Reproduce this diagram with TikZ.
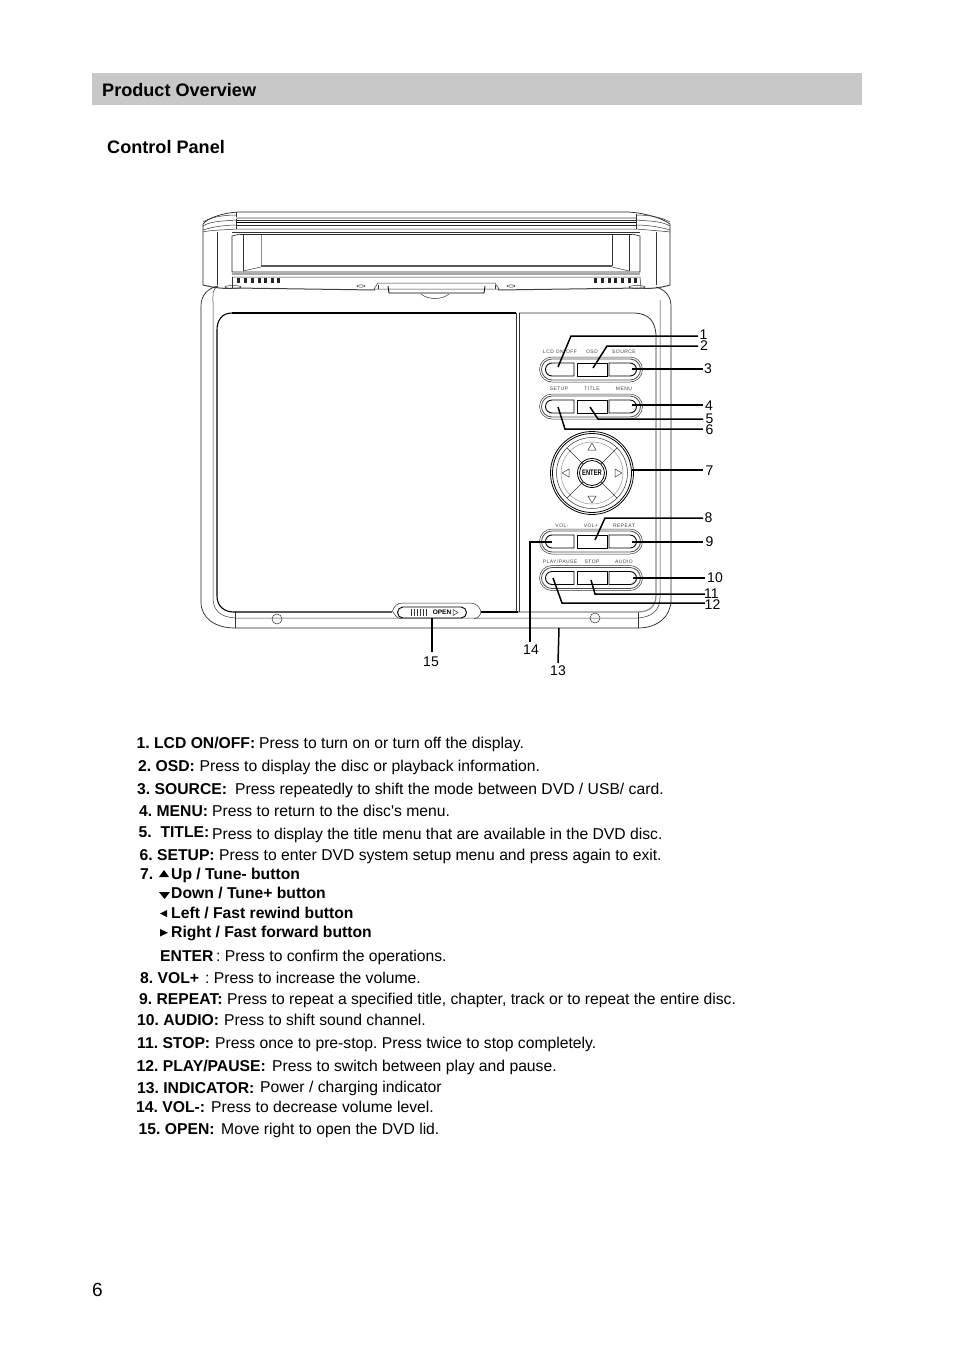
\documentclass[tikz,border=0pt]{standalone}
\usetikzlibrary{calc}
\usepackage{fontspec}
\setmainfont{Liberation Sans}
\newfontfamily\tinyfont[LetterSpace=9]{Liberation Sans}
\newfontfamily\straightfont{Liberation Sans}
\definecolor{bandgray}{HTML}{C8C8C8}
\definecolor{linegray}{HTML}{8C8C8C}
\frenchspacing
\tikzset{
    heading/.style={anchor=base west,inner sep=0pt,font=\fontsize{18.1}{20}\bfseries\selectfont},
    itemhead/.style={anchor=base west,inner sep=0pt,font=\fontsize{15.7}{18}\bfseries\selectfont},
    itemtext/.style={anchor=base west,inner sep=0pt,font=\fontsize{15.7}{18}\selectfont},
    callout/.style={inner sep=0pt,font=\fontsize{14}{16}\selectfont},
    keylabel/.style={inner sep=0pt,text=black!75,font=\tinyfont\fontsize{5}{6}\selectfont},
    leader/.style={line width=1.5pt},
    body/.style={line width=0.7pt,black!85},
    thin line/.style={line width=0.5pt,black!80},
    gray line/.style={line width=1.2pt,linegray},
}
% one row of three keys, centre height given
\newcommand{\keyrow}[1]{
    \draw[thin line] (552,#1-12.5) -- (630,#1-12.5) arc (-90:90:12.5) -- (552,#1+12.5) arc (90:270:12.5) -- cycle;
    \draw[line width=0.8pt,black!70] (552,#1-10.5) -- (630,#1-10.5) arc (-90:90:10.5) -- (552,#1+10.5) arc (90:270:10.5) -- cycle;
    \draw[line width=0.9pt] (552,#1-6.5) -- (574,#1-6.5) -- (574,#1+6.5) -- (552,#1+6.5) arc (90:270:6.5);
    \draw[line width=0.9pt] (577,#1-6.5) rectangle (607,#1+6.5);
    \draw[line width=0.9pt] (630,#1-6.5) -- (609,#1-6.5) -- (609,#1+6.5) -- (630,#1+6.5) arc (90:-90:6.5);
}
\begin{document}
\begin{tikzpicture}[x=1pt,y=-1pt]
    \useasboundingbox (0,0) rectangle (954,1350);
    \fill[bandgray] (92,73) rectangle (862,105);
    \node[heading] (title) at (102,96) {Product Overview};
    \node[heading] (panel) at (107,153) {Control Panel};
    \node[heading,font=\fontsize{19}{20}\selectfont] (page) at (92,1296) {6};

    % lid
    \draw[body] (203,285) -- (203,224) .. controls (208,218) and (222,213) .. (238,212) -- (628,212) .. controls (645,213) and (662,218) .. (670,224) -- (670,285);
    \draw[thin line] (203,222) .. controls (210,217) and (225,215) .. (236,215);
    \draw[thin line] (203,226) .. controls (210,221) and (225,221) .. (236,220);
    \draw[thin line] (203,230) .. controls (212,227) and (225,225) .. (236,225);
    \draw[thin line] (670,222) .. controls (662,217) and (648,215) .. (636,215);
    \draw[thin line] (670,226) .. controls (662,221) and (648,221) .. (636,220);
    \draw[thin line] (670,230) .. controls (660,227) and (648,225) .. (636,225);
    \draw[thin line] (236,212) -- (236,229);
    \draw[thin line] (636,214) -- (636,229);
    \draw[thin line] (217,232) -- (217,285);
    \draw[thin line] (656,232) -- (656,285);
    \draw[thin line] (203,232) .. controls (210,230) and (225,230) .. (236,229) -- (636,229) .. controls (648,230) and (662,231) .. (670,232);
    \draw[gray line,line width=1.5pt,black!25] (236,218) -- (636,218);
    \draw[thin line] (236,220) -- (636,220);
    \draw[line width=0.8pt] (236,222) -- (636,222);
    \draw[thin line] (236,225) -- (636,225);
    \draw[thin line] (232,232) -- (640,232);
    % lid window
    \draw[body] (240,234) -- (632,234);
    \draw[body] (240,234) -- (232,236) -- (232,272) -- (640,272) -- (640,236) -- (632,234);
    \draw[thin line] (243,235) -- (243,271);
    \draw[gray line,line width=1pt] (261,235) -- (261,266);
    \draw[thin line] (612,235) -- (612,266);
    \draw[thin line] (629,235) -- (629,271);
    \draw[thin line] (243,271) -- (261,267);
    \draw[thin line] (629,271) -- (612,267);
    \draw[gray line,line width=1.5pt,black!65] (261,266) -- (612,266);
    \draw[gray line,line width=2pt,black!35] (232,274) -- (640,274);
    % vent strip
    \draw[thin line] (232,277) -- (640,277) -- (641,288);
    \draw[thin line] (232,277) -- (232,288);
    \foreach \ventx in {237,244,251,258,264,271,277}
        \fill[black!85] (\ventx,278) rectangle +(3,5);
    \foreach \ventx in {594,601,608,614,621,628,634}
        \fill[black!85] (\ventx,278) rectangle +(3,5);
    \draw[line width=1pt,black!75] (203,285) .. controls (215,288) and (225,289) .. (235,288) -- (375,290);
    \draw[line width=1pt,black!75] (670,285) .. controls (660,288) and (650,289) .. (640,288) -- (498,290);
    \draw[thin line] (233,287) ellipse (8 and 1.5);
    \draw[thin line] (361,286) ellipse (4 and 1.2);
    \draw[thin line] (511,286) ellipse (4 and 1.2);
    \draw[thin line] (637,287) ellipse (8 and 1.5);
    % hinge
    \draw[thin line] (374,289) -- (378,283) -- (495,283) -- (499,289) -- cycle;
    \draw[line width=0.8pt] (388,286) -- (389,293) -- (484,293) -- (485,286);
    \draw[thin line] (378,285) -- (378,289);
    \draw[thin line] (495,285) -- (495,289);
    \draw[thin line] (421,294) .. controls (428,300) and (442,300) .. (449,294);

    % base
    \draw[body] (218,286) .. controls (208,288) and (201,295) .. (201,306) -- (201,602) .. controls (201,618) and (215,628) .. (235,628) -- (638,628) .. controls (658,628) and (671,616) .. (671,600) -- (671,306) .. controls (671,297) and (666,290) .. (656,287);
    \draw[thin line] (218,286) .. controls (212,289) and (213,295) .. (213,302) -- (213,598) .. controls (213,610) and (220,617) .. (235,618) -- (638,618) .. controls (652,617) and (660,610) .. (660,598) -- (660,300);
    \draw[thin line] (235,612) -- (235,628);
    \draw[thin line] (638,612) -- (638,628);
    \draw[line width=1.1pt] (232,313) -- (516,313);
    \draw[line width=1.1pt] (232,313) .. controls (222,313) and (217,320) .. (217,330) -- (217,596) .. controls (217,606) and (224,612) .. (234,612) -- (392,612);
    \draw[line width=1.1pt] (481,612) -- (518,612);
    \draw[gray line] (518,612) -- (637,612) .. controls (650,612) and (656,606) .. (656,595) -- (656,335);
    \draw[line width=1pt,black!80] (519,313) -- (519,612);
    \draw[thin line] (516,313) -- (516,612);
    \draw[line width=0.8pt,black!80] (519,313) -- (635,313) .. controls (648,314) and (655,320) .. (656,335);
    \node[draw,circle,thin line,minimum size=10pt,inner sep=0pt] (screwl) at (277,619) {};
    \node[draw,circle,thin line,minimum size=10pt,inner sep=0pt] (screwr) at (595,618) {};

    % slider
    \draw[thin line] (392,612) .. controls (394,606) and (397,603) .. (403,603) -- (470,603) .. controls (476,603) and (480,607) .. (481,612);
    \draw[thin line] (393,612) .. controls (395,615) and (396,618) .. (402,619);
    \draw[thin line] (481,612) .. controls (480,616) and (478,618) .. (474,619);
    \draw[line width=0.9pt] (403,607) -- (461,607) arc (-90:90:5.5) -- (403,618) arc (90:270:5.5) -- cycle;
    \foreach \ridgex in {411,414,417,420,423,426}
        \draw[thin line] (\ridgex,609) -- (\ridgex,616);
    \node[inner sep=0pt,font=\fontsize{6.5}{7}\bfseries\selectfont] (open) at (442,612.5) {OPEN};
    \draw[thin line] (453,609.5) -- (458,612.5) -- (453,615.5) -- cycle;

    % key rows
    \keyrow{369.5}
    \keyrow{406.5}
    \keyrow{541.5}
    \keyrow{578}
    \node[keylabel] (lcd) at (560,352) {LCD ON/OFF};
    \node[keylabel] (osd) at (592,352) {OSD};
    \node[keylabel] (source) at (624,352) {SOURCE};
    \node[keylabel] (setup) at (559,389) {SETUP};
    \node[keylabel] (titlekey) at (592,389) {TITLE};
    \node[keylabel] (menu) at (624,389) {MENU};
    \node[keylabel] (volm) at (562,526) {VOL-};
    \node[keylabel] (volp) at (591,526) {VOL+};
    \node[keylabel] (repeat) at (624,526) {REPEAT};
    \node[keylabel] (play) at (560,562) {PLAY/PAUSE};
    \node[keylabel] (stop) at (592,562) {STOP};
    \node[keylabel] (audio) at (624,562) {AUDIO};

    % direction pad
    \coordinate (P) at (592,473);
    \draw[line width=0.8pt] (P) circle (41.5);
    \draw[line width=0.8pt] (P) circle (39.5);
    \draw[thin line] (P) circle (35.5);
    \draw[line width=0.4pt,black!50] (P) circle (31);
    \foreach \padangle in {45,135,225,315}
        \draw[thin line] ($(P)+(\padangle:13)$) -- ($(P)+(\padangle:35.5)$);
    \draw[line width=0.8pt] (P) circle (14.5);
    \draw[line width=0.8pt] (P) circle (12.5);
    \node[inner sep=0pt,xscale=0.72,font=\fontsize{8}{9}\bfseries\selectfont] (enter) at (P) {ENTER};
    \foreach \padangle in {0,90,180,270}
        \draw[thin line,rotate around={\padangle:(P)}] (615,469) -- (622,473) -- (615,477) -- cycle;

    % leaders
    \coordinate (a1) at (558,367); \coordinate (b1) at (571,336); \coordinate (e1) at (698,336);
    \coordinate (a2) at (593,368); \coordinate (b2) at (607,346); \coordinate (e2) at (698,346);
    \coordinate (a3) at (632,369); \coordinate (e3) at (703,369);
    \coordinate (a4) at (632,405); \coordinate (e4) at (703,405);
    \coordinate (a5) at (590,407); \coordinate (b5) at (598,419); \coordinate (e5) at (703,419);
    \coordinate (a6) at (558,407); \coordinate (b6) at (565,429); \coordinate (e6) at (703,429);
    \coordinate (a7) at (632,470); \coordinate (e7) at (703,470);
    \coordinate (a8) at (595,540); \coordinate (b8) at (605,518); \coordinate (e8) at (703,518);
    \coordinate (a9) at (632,542); \coordinate (e9) at (703,542);
    \coordinate (a10) at (633,578); \coordinate (e10) at (705,578);
    \coordinate (a11) at (591,580); \coordinate (b11) at (595,594); \coordinate (e11) at (705,594);
    \coordinate (a12) at (553,578); \coordinate (b12) at (562,603); \coordinate (e12) at (705,603);
    \coordinate (a13) at (559,628); \coordinate (e13) at (558,663);
    \coordinate (a14) at (552,542); \coordinate (b14) at (530,542); \coordinate (e14) at (530,642);
    \coordinate (a15) at (432,618); \coordinate (e15) at (432,652);
    \draw[leader] (a1) -- (b1) -- (e1);
    \draw[leader] (a2) -- (b2) -- (e2);
    \draw[leader] (a3) -- (e3);
    \draw[leader] (a4) -- (e4);
    \draw[leader] (a5) -- (b5) -- (e5);
    \draw[leader] (a6) -- (b6) -- (e6);
    \draw[leader] (a7) -- (e7);
    \draw[leader] (a8) -- (b8) -- (e8);
    \draw[leader] (a9) -- (e9);
    \draw[leader] (a10) -- (e10);
    \draw[leader] (a11) -- (b11) -- (e11);
    \draw[leader] (a12) -- (b12) -- (e12);
    \draw[leader] (a13) -- (e13);
    \draw[leader] (a14) -- (b14) -- (e14);
    \draw[leader] (a15) -- (e15);
    \node[callout] (c1) at (703.5,335) {1};
    \node[callout] (c2) at (704,345.5) {2};
    \node[callout] (c3) at (708,368.5) {3};
    \node[callout] (c4) at (709,405.5) {4};
    \node[callout] (c5) at (709.5,418.5) {5};
    \node[callout] (c6) at (709.5,429.5) {6};
    \node[callout] (c7) at (709.5,470.5) {7};
    \node[callout] (c8) at (708.5,518) {8};
    \node[callout] (c9) at (709.5,541.5) {9};
    \node[callout] (c10) at (715,577.5) {10};
    \node[callout] (c11) at (711.5,593.5) {11};
    \node[callout] (c12) at (712.5,604.5) {12};
    \node[callout] (c13) at (558,671) {13};
    \node[callout] (c14) at (531,649.5) {14};
    \node[callout] (c15) at (431,661.5) {15};

    % list
    \node[itemhead] (h1) at (136.5,748) {1. LCD ON/OFF:};
    \node[itemtext] (t1) at (259,748) {Press to turn on or turn off the display.};
    \node[itemhead] (h2) at (138,771) {2. OSD:};
    \node[itemtext] (t2) at (199.5,771) {Press to display the disc or playback information.};
    \node[itemhead] (h3) at (137,794) {3. SOURCE:};
    \node[itemtext] (t3) at (235,794) {Press repeatedly to shift the mode between DVD / USB/ card.};
    \node[itemhead] (h4) at (139,816) {4. MENU:};
    \node[itemtext] (t4) at (212,816) {Press to return to the disc{\straightfont'}s menu.};
    \node[itemhead] (h5) at (138.5,837) {5.\ \ TITLE:};
    \node[itemtext] (t5) at (212,839) {Press to display the title menu that are available in the DVD disc.};
    \node[itemhead] (h6) at (139.5,860) {6. SETUP:};
    \node[itemtext] (t6) at (219,860) {Press to enter DVD system setup menu and press again to exit.};
    \node[itemhead] (h7) at (140,879) {7.};
    \fill (159,877) -- (164,870) -- (169,877) -- cycle;
    \node[itemhead] (u7) at (171,879) {Up / Tune- button};
    \fill (159,892) -- (170,892) -- (164.5,899) -- cycle;
    \node[itemhead] (d7) at (171,898) {Down / Tune+ button};
    \fill (167,910) -- (167,917) -- (160,913.5) -- cycle;
    \node[itemhead] (l7) at (171,918) {Left / Fast rewind button};
    \fill (160,929) -- (160,936.5) -- (168,932.7) -- cycle;
    \node[itemhead] (r7) at (171,937) {Right / Fast forward button};
    \node[itemhead] (henter) at (160,961) {ENTER};
    \node[itemtext] (tenter) at (216,961) {: Press to confirm the operations.};
    \node[itemhead] (h8) at (140,983) {8. VOL+};
    \node[itemtext] (t8) at (205,983) {: Press to increase the volume.};
    \node[itemhead] (h9) at (139,1004) {9. REPEAT:};
    \node[itemtext] (t9) at (227,1004) {Press to repeat a specified title, chapter, track or to repeat the entire disc.};
    \node[itemhead] (h10) at (137,1025) {10. AUDIO:};
    \node[itemtext] (t10) at (224,1025) {Press to shift sound channel.};
    \node[itemhead] (h11) at (137,1048) {11. STOP:};
    \node[itemtext] (t11) at (215,1048) {Press once to pre-stop. Press twice to stop completely.};
    \node[itemhead] (h12) at (136.5,1071) {12. PLAY/PAUSE:};
    \node[itemtext] (t12) at (272,1071) {Press to switch between play and pause.};
    \node[itemhead] (h13) at (137,1093) {13. INDICATOR:};
    \node[itemtext] (t13) at (260,1092) {Power / charging indicator};
    \node[itemhead] (h14) at (136,1112) {14. VOL-:};
    \node[itemtext] (t14) at (211,1112) {Press to decrease volume level.};
    \node[itemhead] (h15) at (138.5,1134) {15. OPEN:};
    \node[itemtext] (t15) at (221,1134) {Move right to open the DVD lid.};
\end{tikzpicture}
\end{document}
